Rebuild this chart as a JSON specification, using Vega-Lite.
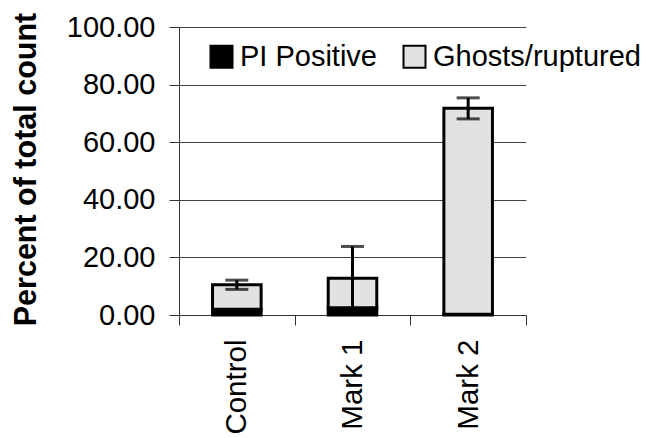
{
  "$schema": "https://vega.github.io/schema/vega-lite/v6.json",
  "autosize": "none",
  "padding": {"left": 179, "top": 27, "right": 120, "bottom": 123},
  "width": 347,
  "height": 288,
  "background": "white",
  "datasets": {
    "bars": [
      {"group": "Control", "type": "PI Positive", "rank": 1, "value": 2.0},
      {"group": "Control", "type": "Ghosts/ruptured", "rank": 2, "value": 8.5},
      {"group": "Mark 1", "type": "PI Positive", "rank": 1, "value": 2.5},
      {"group": "Mark 1", "type": "Ghosts/ruptured", "rank": 2, "value": 10.3},
      {"group": "Mark 2", "type": "PI Positive", "rank": 1, "value": 0.3},
      {"group": "Mark 2", "type": "Ghosts/ruptured", "rank": 2, "value": 71.5}
    ],
    "errs": [
      {"group": "Control", "lo": 8.9, "hi": 12.1},
      {"group": "Mark 1", "lo": 1.8, "hi": 23.8},
      {"group": "Mark 2", "lo": 68.1, "hi": 75.4}
    ]
  },
  "encoding": {
    "x": {
      "field": "group", "type": "nominal", "sort": ["Control", "Mark 1", "Mark 2"],
      "scale": {"paddingInner": 0, "paddingOuter": 0},
      "axis": {
        "title": null, "labelAngle": -90, "tickBand": "extent", "tickSize": 10,
        "labelPadding": 14, "labelFontSize": 29.5, "domainColor": "#333333", "tickColor": "#333333"
      }
    }
  },
  "layer": [
    {
      "data": {"name": "bars"},
      "mark": {"type": "bar", "width": {"band": 0.42}, "stroke": "black", "strokeWidth": 3},
      "encoding": {
        "y": {
          "field": "value", "type": "quantitative", "stack": "zero",
          "scale": {"domain": [0, 100], "nice": false},
          "axis": {"title": "Percent of total count", "values": [0, 20, 40, 60, 80, 100], "format": ".2f"}
        },
        "order": {"field": "rank", "type": "quantitative"},
        "color": {
          "field": "type", "type": "nominal",
          "scale": {"domain": ["PI Positive", "Ghosts/ruptured"], "range": ["#000000", "#e2e2e2"]},
          "legend": {
            "title": null, "orient": "none", "direction": "horizontal",
            "legendX": 28, "legendY": 15,
            "symbolType": "square", "symbolSize": 484, "symbolStrokeColor": "black", "symbolStrokeWidth": 2,
            "labelFontSize": 29, "labelOffset": 4, "columnPadding": 22, "labelColor": "black",
            "labelLimit": 300
          }
        }
      }
    },
    {
      "data": {"name": "errs"},
      "mark": {"type": "rule", "strokeWidth": 3, "color": "black"},
      "encoding": {
        "y": {"field": "lo", "type": "quantitative", "axis": {"title": "Percent of total count"}},
        "y2": {"field": "hi"}
      }
    },
    {
      "data": {"name": "errs"},
      "mark": {"type": "tick", "size": 23, "thickness": 3, "color": "black", "orient": "horizontal"},
      "encoding": {
        "y": {"field": "lo", "type": "quantitative", "axis": {"title": "Percent of total count"}}
      }
    },
    {
      "data": {"name": "errs"},
      "mark": {"type": "tick", "size": 23, "thickness": 3, "color": "black", "orient": "horizontal"},
      "encoding": {
        "y": {"field": "hi", "type": "quantitative", "axis": {"title": "Percent of total count"}}
      }
    }
  ],
  "config": {
    "font": "Liberation Sans",
    "view": {"stroke": null},
    "axis": {"labelColor": "black", "titleColor": "black", "labelFont": "Liberation Sans", "titleFont": "Liberation Sans"},
    "axisY": {
      "grid": true, "gridColor": "#444444", "gridWidth": 1, "gridOpacity": 1,
      "domainColor": "#333333", "tickColor": "#333333", "tickSize": 10,
      "labelFontSize": 29, "labelPadding": 14,
      "titleFontSize": 30.5, "titleFontWeight": "bold",
      "titleX": -144, "titleY": 142, "titleAngle": -90, "titleBaseline": "alphabetic", "titleAlign": "center"
    },
    "axisX": {"grid": false},
    "legend": {"labelFont": "Liberation Sans"}
  }
}
